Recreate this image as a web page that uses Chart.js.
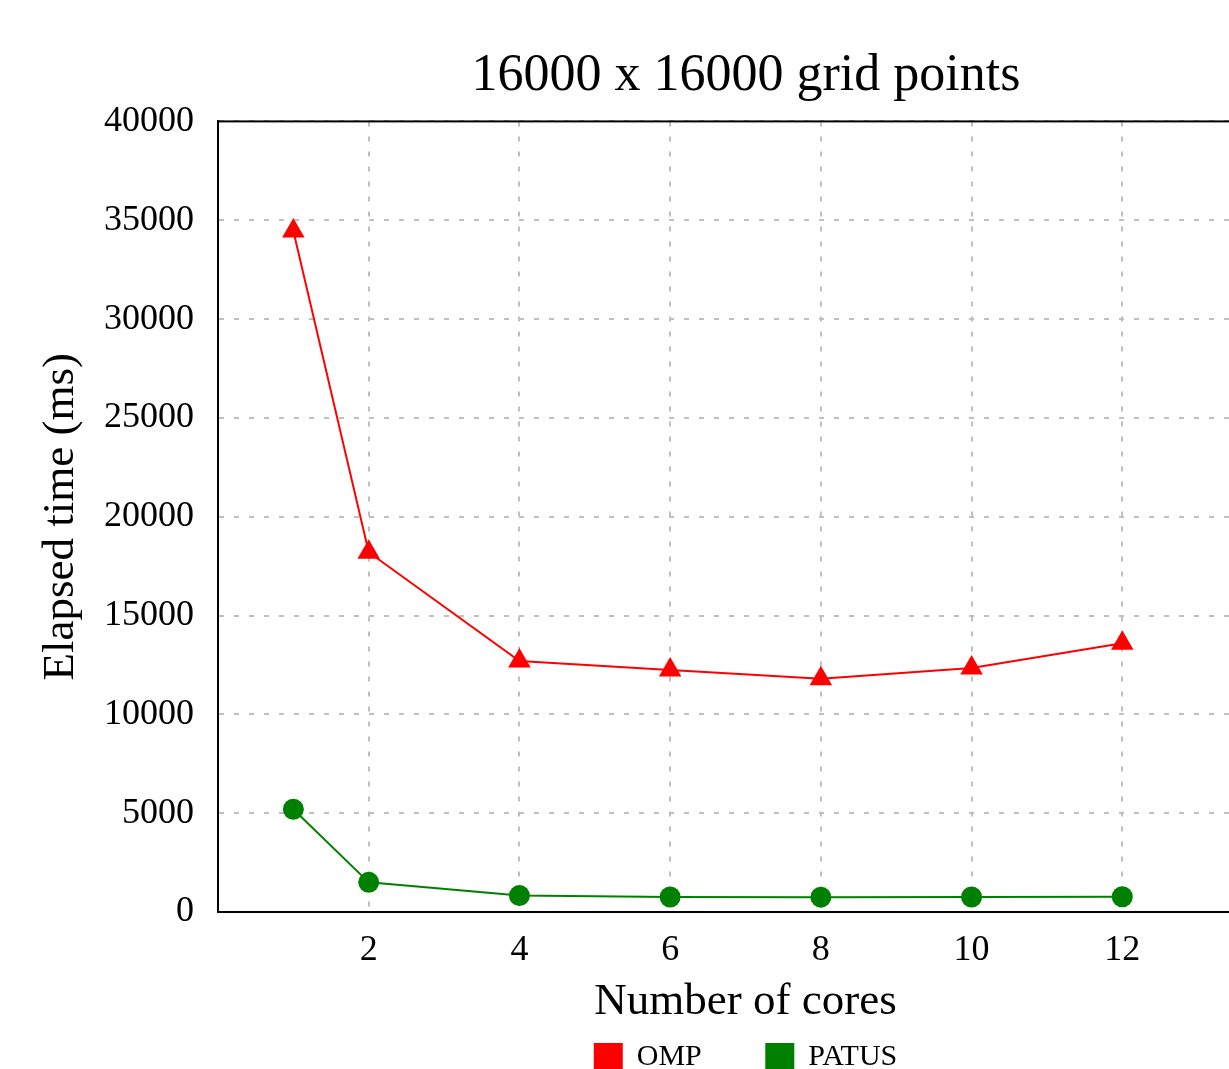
<!DOCTYPE html>
<html>
<head>
<meta charset="utf-8">
<script src="https://cdn.jsdelivr.net/npm/chart.js@4/dist/chart.umd.min.js"></script>
<style>
  html, body { margin: 0; padding: 0; background: #fff; overflow: hidden; }
  #wrap { position: absolute; left: 0; top: 0; width: 1492px; height: 1082px; }
</style>
</head>
<body>
<div id="wrap"><canvas id="c" width="1492" height="1082"></canvas></div>
<script>
const titleText = '16000 x 16000 grid points';
const xTitle = 'Number of cores';
const yTitle = 'Elapsed time (ms)';
const cores = [1, 2, 4, 6, 8, 10, 12];
const xTicks = [2, 4, 6, 8, 10, 12];
const yTicks = [0, 5000, 10000, 15000, 20000, 25000, 30000, 35000, 40000];
const ompTimes = [34450, 18200, 12700, 12250, 11800, 12350, 13600];
const patusTimes = [5200, 1500, 830, 760, 750, 760, 770];
const seriesNames = ['OMP', 'PATUS'];

const FONT = "'Liberation Serif', 'Times New Roman', serif";

const frame = {
  id: 'frame',
  afterDatasetsDraw(chart) {
    const a = chart.chartArea, ctx = chart.ctx;
    ctx.save();
    ctx.strokeStyle = '#000';
    ctx.lineWidth = 2;
    ctx.strokeRect(a.left, a.top, a.right - a.left, a.bottom - a.top);
    ctx.restore();
  }
};

new Chart(document.getElementById('c'), {
  type: 'line',
  data: {
    datasets: [
      {
        label: seriesNames[0],
        data: cores.map((c, i) => ({ x: c, y: ompTimes[i] })),
        borderColor: '#ff0000',
        backgroundColor: '#ff0000',
        borderWidth: 2,
        pointStyle: 'triangle',
        pointRadius: 13,
        pointBorderWidth: 0,
        tension: 0
      },
      {
        label: seriesNames[1],
        data: cores.map((c, i) => ({ x: c, y: patusTimes[i] })),
        borderColor: '#008000',
        backgroundColor: '#008000',
        borderWidth: 2,
        pointStyle: 'circle',
        pointRadius: 10.5,
        pointBorderWidth: 0,
        tension: 0
      }
    ]
  },
  options: {
    responsive: false,
    animation: false,
    devicePixelRatio: 1,
    layout: { padding: 0 },
    scales: {
      x: {
        type: 'linear',
        min: 0,
        max: 14,
        afterBuildTicks: (s) => { s.ticks = xTicks.map(v => ({ value: v })); },
        afterFit: (s) => { s.height = 118; },
        grid: { color: '#c0c0c0', lineWidth: 2, drawTicks: false },
        border: { display: true, color: '#000', width: 2, dash: [5, 10] },
        ticks: { color: '#000', font: { family: FONT, size: 36 }, padding: 17, maxRotation: 0, autoSkip: false,
                 callback: (v) => String(v) },
        title: { display: true, text: xTitle, color: '#000', font: { family: FONT, size: 45 }, padding: { top: 0, bottom: 1 } }
      },
      y: {
        min: 0,
        max: 40000,
        afterBuildTicks: (s) => { s.ticks = yTicks.map(v => ({ value: v })); },
        afterFit: (s) => { s.width = 218; },
        grid: { color: '#c0c0c0', lineWidth: 2, drawTicks: false },
        border: { display: true, color: '#000', width: 2, dash: [5, 10] },
        ticks: { color: '#000', font: { family: FONT, size: 36 }, padding: 24, callback: (v) => String(v) },
        title: { display: true, text: yTitle, color: '#000', font: { family: FONT, size: 45 }, padding: { top: 34, bottom: 0 } }
      },
      yRight: {
        position: 'right',
        min: 0,
        max: 1,
        afterFit: (s) => { s.width = 219; },
        grid: { display: false },
        border: { display: false },
        ticks: { display: false },
        title: { display: false }
      }
    },
    plugins: {
      title: {
        display: true,
        text: titleText,
        color: '#000',
        font: { family: FONT, size: 52, weight: 'normal' },
        padding: { top: 45, bottom: 14 }
      },
      legend: {
        position: 'bottom',
        labels: {
          color: '#000',
          font: { family: FONT, size: 30 },
          boxWidth: 27,
          boxHeight: 26,
          padding: 12,
          generateLabels: (chart) => {
            const items = Chart.defaults.plugins.legend.labels.generateLabels(chart);
            items[0].text = items[0].text + '\u00A0'.repeat(7);
            return items;
          }
        }
      },
      tooltip: { enabled: false }
    }
  },
  plugins: [frame]
});
</script>
</body>
</html>
